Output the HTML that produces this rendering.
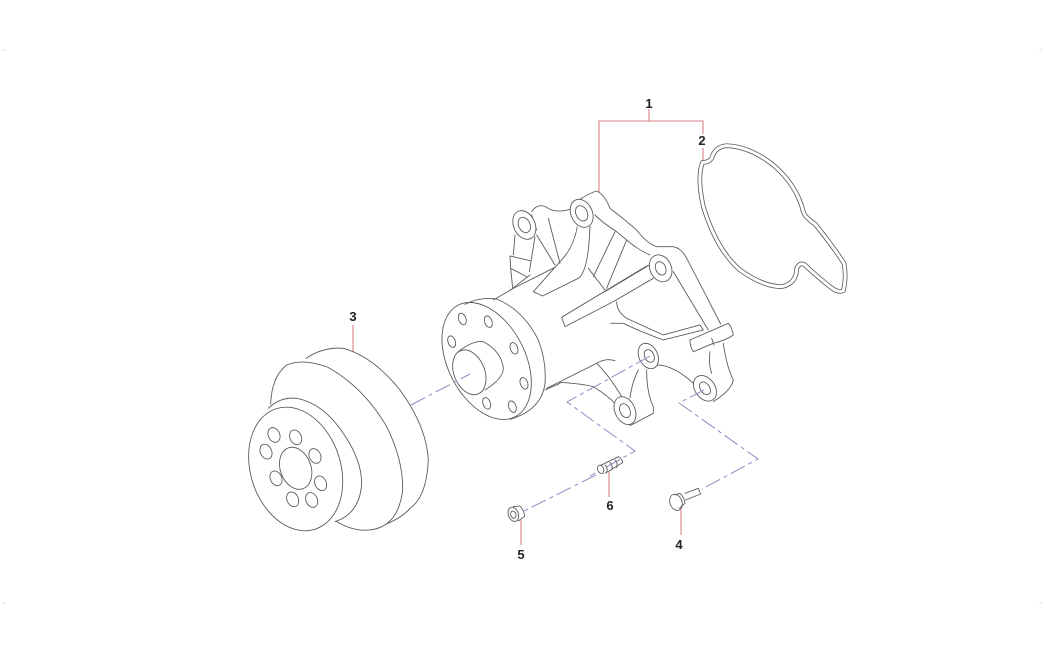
<!DOCTYPE html>
<html>
<head>
<meta charset="utf-8">
<style>
html,body{margin:0;padding:0;background:#fff;width:1044px;height:655px;overflow:hidden}
svg{display:block}
text{font-family:"Liberation Sans",sans-serif;font-weight:bold;font-size:13px;fill:#222;text-anchor:middle}
.l{fill:none;stroke:#5c5c5c;stroke-width:.9;stroke-linecap:round;stroke-linejoin:round}
.z{fill:none;stroke:#5c5c5c;stroke-width:2.7;stroke-linecap:round;stroke-linejoin:round}
.f{fill:#fff;stroke:#5c5c5c;stroke-width:2.7}
.r{fill:none;stroke:#d9828a;stroke-width:1.1}
.d{fill:none;stroke:#8c8cc4;stroke-width:1;stroke-dasharray:16 4 4 4}
</style>
</head>
<body>
<svg width="1044" height="655" viewBox="0 0 1044 655" xmlns="http://www.w3.org/2000/svg">
<rect width="1044" height="655" fill="#fff"/>
<path d="M2 50h3M1039 50h3M2 603h3M1039 603h3" stroke="#ddd" stroke-width="1"/>

<!-- leaders -->
<path class="r" d="M649 109V121M599 192V121H703V134M703 148V161"/>
<path class="r" d="M353 325V352M609 472V497M521 520V545M681 508V535"/>

<!-- gasket -->
<g transform="translate(690,130) scale(.3333)">
<path fill="none" stroke="#5c5c5c" stroke-width="14" stroke-linejoin="round" d="M38 97Q55 98 65 85Q75 50 110 47Q180 50 250 105Q320 165 340 245Q345 262 375 282Q430 350 462 400Q470 440 460 482Q445 490 420 470Q370 430 345 405Q330 395 320 415Q320 460 275 470Q220 470 150 420Q80 360 40 230Q20 140 38 97Z"/>
<path fill="none" stroke="#fff" stroke-width="9" stroke-linejoin="round" d="M38 97Q55 98 65 85Q75 50 110 47Q180 50 250 105Q320 165 340 245Q345 262 375 282Q430 350 462 400Q470 440 460 482Q445 490 420 470Q370 430 345 405Q330 395 320 415Q320 460 275 470Q220 470 150 420Q80 360 40 230Q20 140 38 97Z"/>
</g>

<!-- pump body -->
<g transform="translate(490,180) scale(.3333)">
<path class="z" d="M245 75Q290 42 320 33Q345 45 360 85Q400 115 440 150Q470 190 500 200L550 200Q575 205 590 235L650 350L692 432"/>
<path class="z" d="M125 95Q145 65 175 85Q200 100 240 88M125 105L140 150M175 115L210 250M140 165L195 255"/>
<path class="z" d="M75 165L70 225M135 170L118 275M60 228L120 242M60 228L62 265L110 290M62 265L68 325L120 285"/>
<path class="z" d="M60 330L195 262"/>
<path class="z" d="M262 140Q250 205 210 245L130 335L158 348L265 295Q295 275 300 140M295 265L345 330"/>
<path class="z" d="M375 155L310 290M410 180L350 325M315 105Q340 130 380 155L410 180Q445 210 480 225"/>
<path class="z" d="M345 335L478 255M470 258L215 412L225 440L370 365L490 295"/>
<path class="z" d="M380 365Q380 395 410 415L520 465L630 435L640 450L520 480Q440 450 400 430L362 430"/>
<path class="z" d="M550 275L655 450"/>
<path class="z" d="M700 490Q710 560 730 600Q725 630 670 665M660 515Q655 550 665 580"/>
<path class="f" d="M600 480L715 430Q725 440 730 465Q710 480 670 490L610 515Q600 500 600 480Z"/>
<path class="z" d="M665 475L672 495"/>
<path class="z" d="M170 625L210 605L330 545Q350 535 375 542M210 607Q280 612 310 620Q350 645 375 670M320 550Q360 590 395 650"/>
<path class="z" d="M445 570Q425 610 420 655M470 570Q470 640 490 680L490 700L420 737M500 555Q550 555 610 610"/>
<g class="f">
<ellipse cx="103" cy="135" rx="32" ry="45" transform="rotate(-25 103 135)"/>
<ellipse cx="275" cy="100" rx="32" ry="44" transform="rotate(-25 275 100)"/>
<ellipse cx="512" cy="265" rx="32" ry="42" transform="rotate(-25 512 265)"/>
<ellipse cx="645" cy="625" rx="30" ry="42" transform="rotate(-35 645 625)"/>
<ellipse cx="405" cy="692" rx="30" ry="44" transform="rotate(-25 405 692)"/>
<ellipse cx="475" cy="528" rx="28" ry="40" transform="rotate(-25 475 528)"/>
<ellipse cx="103" cy="135" rx="17" ry="24" transform="rotate(-25 103 135)"/>
<ellipse cx="275" cy="100" rx="17" ry="24" transform="rotate(-25 275 100)"/>
<ellipse cx="512" cy="265" rx="15" ry="21" transform="rotate(-25 512 265)"/>
<ellipse cx="645" cy="625" rx="14" ry="21" transform="rotate(-35 645 625)"/>
<ellipse cx="405" cy="692" rx="15" ry="22" transform="rotate(-25 405 692)"/>
<ellipse cx="478" cy="528" rx="14" ry="20" transform="rotate(-25 478 528)"/>
</g>
</g>

<!-- flange -->
<g transform="translate(430,285) scale(.3333)">
<path class="z" d="M190 45L250 10M345 315L390 295"/>
<path class="z" d="M105 58Q150 35 200 42Q280 75 325 165Q350 230 345 295Q335 375 240 403"/>
<ellipse class="z" cx="170" cy="228" rx="116" ry="188" transform="rotate(-27 170 228)"/>
<g class="z">
<ellipse cx="97" cy="102" rx="11" ry="18" transform="rotate(-20 97 102)"/>
<ellipse cx="175" cy="110" rx="11" ry="18" transform="rotate(-20 175 110)"/>
<ellipse cx="65" cy="170" rx="11" ry="18" transform="rotate(-20 65 170)"/>
<ellipse cx="252" cy="190" rx="11" ry="18" transform="rotate(-20 252 190)"/>
<ellipse cx="282" cy="295" rx="11" ry="18" transform="rotate(-20 282 295)"/>
<ellipse cx="247" cy="365" rx="11" ry="18" transform="rotate(-20 247 365)"/>
<ellipse cx="170" cy="355" rx="11" ry="18" transform="rotate(-20 170 355)"/>
<ellipse cx="118" cy="262" rx="46" ry="70" transform="rotate(-22 118 262)"/>
<path d="M85 200Q130 165 160 170Q215 200 220 250Q220 280 165 315"/>
</g>
</g>

<!-- pulley -->
<g transform="translate(230,300) scale(.3333)">
<path class="z" d="M228 175Q280 140 340 145Q430 170 510 270Q590 380 595 480Q590 590 540 625Q520 650 470 672"/>
<path class="z" d="M122 312Q125 230 170 195Q215 175 290 200Q400 260 470 380Q520 480 518 570Q505 680 420 690Q370 695 320 665"/>
<path class="z" d="M115 325Q150 290 200 295Q280 310 340 400Q395 480 395 550Q390 640 315 665"/>
<ellipse class="z" cx="197" cy="507" rx="135" ry="190" transform="rotate(-18 197 507)"/>
<ellipse class="z" cx="197" cy="505" rx="46" ry="65" transform="rotate(-20 197 505)"/>
<g class="z">
<ellipse cx="132" cy="405" rx="17" ry="23" transform="rotate(-25 132 405)"/>
<ellipse cx="197" cy="412" rx="17" ry="23" transform="rotate(-25 197 412)"/>
<ellipse cx="108" cy="455" rx="17" ry="23" transform="rotate(-25 108 455)"/>
<ellipse cx="255" cy="468" rx="17" ry="23" transform="rotate(-25 255 468)"/>
<ellipse cx="138" cy="535" rx="17" ry="23" transform="rotate(-25 138 535)"/>
<ellipse cx="272" cy="550" rx="17" ry="23" transform="rotate(-25 272 550)"/>
<ellipse cx="188" cy="598" rx="17" ry="23" transform="rotate(-25 188 598)"/>
<ellipse cx="245" cy="600" rx="17" ry="23" transform="rotate(-25 245 600)"/>
</g>
</g>

<!-- centre lines -->
<path class="d" d="M411 405L470 374"/>
<path class="d" d="M650 356L567 402L635 451L590 476"/>
<path class="d" d="M704 390L679 403L758 459L702 489"/>
<path class="d" d="M596 475L524 511"/>

<!-- small parts -->
<g transform="translate(490,380) scale(.3333)">
<path class="z" d="M332 256L385 230Q398 238 398 248L345 280"/>
<ellipse class="f" cx="332" cy="268" rx="9" ry="13" transform="rotate(-20 332 268)"/>
<path class="z" d="M345 255Q355 265 350 277M360 247Q370 258 365 270M375 240Q385 250 380 263"/>
<path class="z" d="M70 380L90 378Q105 395 103 410L85 423"/>
<ellipse class="z" cx="70" cy="403" rx="15" ry="22" transform="rotate(-20 70 403)"/>
<ellipse class="z" cx="70" cy="404" rx="8" ry="11" transform="rotate(-20 70 404)"/>
<path class="z" d="M555 345L570 340Q585 355 585 370L568 385M585 340L625 325L632 342L587 360"/>
<ellipse class="z" cx="558" cy="367" rx="18" ry="25" transform="rotate(-20 558 367)"/>
</g>

<!-- labels -->
<text x="649" y="108">1</text>
<text x="702" y="145">2</text>
<text x="353" y="321">3</text>
<text x="679" y="549">4</text>
<text x="521" y="559">5</text>
<text x="610" y="510">6</text>
</svg>
</body>
</html>
